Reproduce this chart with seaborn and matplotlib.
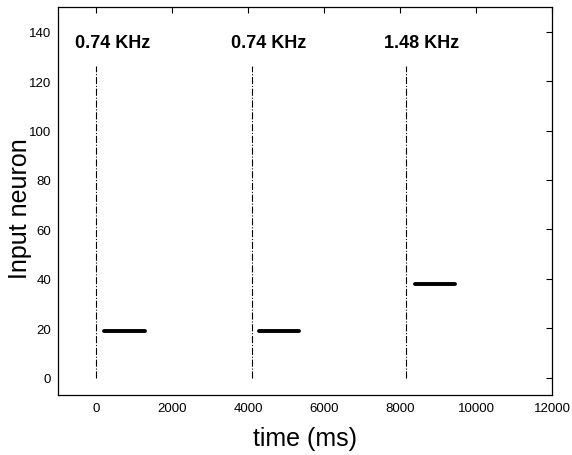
import matplotlib
matplotlib.use("Agg")
import matplotlib.pyplot as plt
import seaborn as sns
import pandas as pd

# Data
onset_times = [0, 4100, 8150]
onset_labels = ["0.74 KHz", "0.74 KHz", "1.48 KHz"]
line_top = 126
bar_starts = [200, 4300, 8400]
bar_ends = [1300, 5350, 9450]
bar_neurons = [19, 19, 38]
x_ticks = [0, 2000, 4000, 6000, 8000, 10000, 12000]
y_ticks = [0, 20, 40, 60, 80, 100, 120, 140]

sns.set_theme(style="white")
plt.rcParams['font.family'] = ['Liberation Sans', 'DejaVu Sans']
plt.rcParams['text.color'] = 'black'
plt.rcParams['axes.labelcolor'] = 'black'

fig = plt.figure(figsize=(5.72, 4.56), dpi=100)
ax = fig.add_axes([58/572, 1 - 396/456, (552-58)/572, (396-8)/456])

rows = []
for i, (s, e, n) in enumerate(zip(bar_starts, bar_ends, bar_neurons)):
    rows.append({"seg": i, "t": s, "n": n})
    rows.append({"seg": i, "t": e, "n": n})
df = pd.DataFrame(rows)
sns.lineplot(data=df, x="t", y="n", units="seg", estimator=None, color="black",
             linewidth=2.8, ax=ax, legend=False)

ax.vlines(onset_times, 0, line_top, colors="black", linestyles="dashdot", linewidth=0.8)

for t, lab in zip(onset_times, onset_labels):
    ax.text(t - 560, 135.5, lab, fontsize=13, fontweight="bold", ha="left", va="center",
            color="black")

ax.set_xlim(-1000, 12000)
ax.set_ylim(-7, 150)
ax.set_xticks(x_ticks)
ax.set_yticks(y_ticks)
ax.tick_params(direction="in", length=4, width=0.8, labelsize=9.5, top=True, right=True,
               labeltop=False, labelright=False, colors="black", pad=5)
for sp in ax.spines.values():
    sp.set_color("black")
    sp.set_linewidth(0.9)
ax.set_xlabel("time (ms)", fontsize=18, labelpad=9)
ax.set_ylabel("Input neuron", fontsize=18)
ax.yaxis.set_label_coords(-0.053, 0.482)
fig.savefig("out.png", dpi=100)
